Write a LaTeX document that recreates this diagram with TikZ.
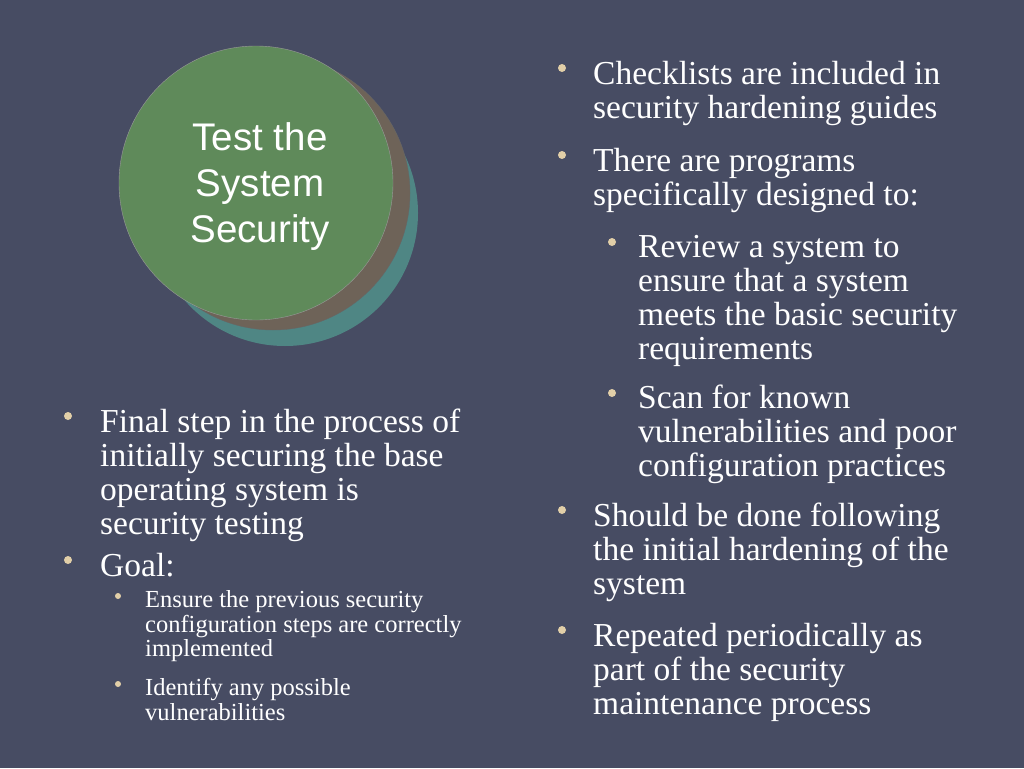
\documentclass[tikz,border=0pt]{standalone}
\usepackage{fontspec}
\setmainfont{Liberation Serif}
\newfontfamily\circfont{Liberation Sans}
\definecolor{bg}{HTML}{474C63}
\definecolor{grn}{HTML}{5F8A5A}
\definecolor{brn}{HTML}{6E6358}
\definecolor{tl}{HTML}{4F8684}
\definecolor{bul}{HTML}{E2CFA8}
\definecolor{txt}{HTML}{FFFFFF}
\begin{document}
\begin{tikzpicture}[x=1pt,y=-1pt,
 main/.style={anchor=north west,align=left,text=txt,inner sep=0pt,font=\fontsize{33.5}{34}\selectfont,yshift=23.8pt},
 sub/.style={anchor=north west,align=left,text=txt,inner sep=0pt,font=\fontsize{24.5}{24}\selectfont,yshift=16.8pt},
 dot/.style={circle,fill=bul,inner sep=0pt,minimum size=8pt}]
\useasboundingbox[fill=bg] (0,0) rectangle (1024,768);
\fill[tl] (285,213) circle (133);
\draw[fill=brn,draw=black!60] (273,193) circle (137);
\draw[fill=grn,draw=black!40] (256,183) circle (137);
\node[text=txt,align=center,font=\circfont\fontsize{38.5}{46}\selectfont] (ct) at (260,187) {Test the\\System\\Security};
% right column
\node[main] (r1) at (593,84) {\strut Checklists are included in\\security hardening guides};
\node[main] (r2) at (593,171) {\strut There are programs\\specifically designed to:};
\node[main] (r3) at (638,257) {\strut Review a system to\\ensure that a system\\meets the basic security\\requirements};
\node[main] (r4) at (638,408) {\strut Scan for known\\vulnerabilities and poor\\configuration practices};
\node[main] (r5) at (593,526) {\strut Should be done following\\the initial hardening of the\\system};
\node[main] (r6) at (593,646) {\strut Repeated periodically as\\part of the security\\maintenance process};
\foreach \y in {68,155,510,630} \node[dot] at (562,\y) {};
\foreach \y in {242,393} \node[dot] at (612,\y) {};
% left column
\node[main] (l1) at (100,432) {\strut Final step in the process of\\initially securing the base\\operating system is\\security testing};
\node[main] (l2) at (100,576) {\strut Goal:};
\node[sub] (l3) at (145,607) {\strut Ensure the previous security\\configuration steps are correctly\\implemented};
\node[sub] (l4) at (145,695) {\strut Identify any possible\\vulnerabilities};
\foreach \y in {416,560} \node[dot] at (68,\y) {};
\foreach \y in {596,684} \node[dot,minimum size=6pt] at (118,\y) {};
\end{tikzpicture}
\end{document}
